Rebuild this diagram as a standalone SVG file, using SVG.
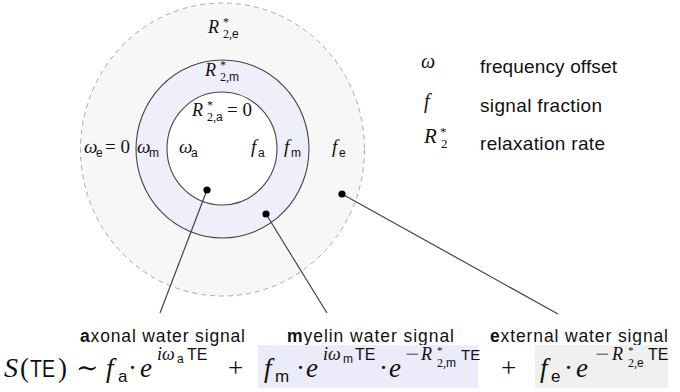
<svg xmlns="http://www.w3.org/2000/svg" width="680" height="392" viewBox="0 0 680 392">
<style>
text{fill:#111}
.mi{font-family:"Liberation Serif","DejaVu Serif",serif;font-style:italic}
.rm{font-family:"Liberation Serif","DejaVu Serif",serif;font-style:normal}
.sf{font-family:"Liberation Sans","DejaVu Sans",sans-serif;font-style:normal}
.conn{stroke:#444;stroke-width:1.2;fill:none}
.dot{fill:#000}
</style>
<rect width="680" height="392" fill="#fff"/>
<g id="external-region">
<ellipse cx="222.5" cy="149.5" rx="142" ry="146.5" fill="#f7f7f7" stroke="#aaa" stroke-width="1" stroke-dasharray="5,4"/>
<text class="rm" font-size="12"><tspan class="mi" x="208" y="33" font-size="18">R</tspan><tspan x="223" y="26">*</tspan><tspan x="223" y="38">2,</tspan><tspan class="sf" x="232" y="38">e</tspan></text>
<text class="rm" font-size="19"><tspan class="mi" x="84" y="153">ω</tspan><tspan class="sf" x="96" y="157" font-size="12">e</tspan><tspan x="105" y="153">= 0</tspan></text>
<text class="mi" font-size="19"><tspan x="332" y="153">f</tspan><tspan class="sf" x="339" y="157" font-size="12">e</tspan></text>
</g>
<g id="myelin-region">
<ellipse cx="222.5" cy="149" rx="86.5" ry="89" fill="#efeffb" stroke="#444" stroke-width="1.1"/>
<text class="rm" font-size="12"><tspan class="mi" x="205" y="76" font-size="18">R</tspan><tspan x="220" y="69">*</tspan><tspan x="220" y="81">2,</tspan><tspan class="sf" x="229" y="81">m</tspan></text>
<text class="mi" font-size="19"><tspan x="137" y="153">ω</tspan><tspan class="sf" x="149" y="157" font-size="12">m</tspan></text>
<text class="mi" font-size="19"><tspan x="284" y="153">f</tspan><tspan class="sf" x="291" y="157" font-size="12">m</tspan></text>
</g>
<g id="axonal-region">
<ellipse cx="222" cy="148.5" rx="55" ry="56.5" fill="#fff" stroke="#444" stroke-width="1.1"/>
<text class="rm" font-size="12"><tspan class="mi" x="192" y="116" font-size="18">R</tspan><tspan x="207" y="109">*</tspan><tspan x="207" y="121">2,</tspan><tspan class="sf" x="216" y="121">a</tspan><tspan x="227" y="116" font-size="19">= 0</tspan></text>
<text class="mi" font-size="19"><tspan x="179" y="153">ω</tspan><tspan class="sf" x="191" y="157" font-size="12">a</tspan></text>
<text class="mi" font-size="19"><tspan x="251" y="153">f</tspan><tspan class="sf" x="258" y="157" font-size="12">a</tspan></text>
</g>
<g id="legend">
<text class="mi" x="421" y="68" font-size="20">ω</text>
<text class="mi" x="424" y="108" font-size="20">f</text>
<text class="rm" font-size="13"><tspan class="mi" x="424" y="143" font-size="21">R</tspan><tspan x="440" y="136">*</tspan><tspan x="441" y="148">2</tspan></text>
<text class="sf" x="480" y="73" font-size="19" textLength="137" lengthAdjust="spacing">frequency offset</text>
<text class="sf" x="480" y="112" font-size="19" textLength="122" lengthAdjust="spacing">signal fraction</text>
<text class="sf" x="480" y="150" font-size="19" textLength="125" lengthAdjust="spacing">relaxation rate</text>
</g>
<g id="connectors">
<line class="conn" x1="207" y1="190" x2="160" y2="313"/>
<line class="conn" x1="266" y1="214" x2="327" y2="313"/>
<line class="conn" x1="342" y1="194" x2="558" y2="314"/>
<circle class="dot" cx="207" cy="190" r="3.6"/>
<circle class="dot" cx="266" cy="214" r="3.6"/>
<circle class="dot" cx="342" cy="194" r="3.6"/>
</g>
<g id="labels">
<text class="sf" x="80" y="342" font-size="17.5" textLength="165" lengthAdjust="spacing"><tspan font-weight="bold">a</tspan>xonal water signal</text>
<text class="sf" x="287" y="342" font-size="17.5" textLength="167" lengthAdjust="spacing"><tspan font-weight="bold">m</tspan>yelin water signal</text>
<text class="sf" x="490" y="342" font-size="17.5" textLength="178" lengthAdjust="spacing"><tspan font-weight="bold">e</tspan>xternal water signal</text>
</g>
<g id="formula">
<rect x="258" y="345" width="220" height="43" fill="#ebebf9"/>
<rect x="535" y="345" width="133" height="43" fill="#f0f0f0"/>
<text class="rm" font-size="27"><tspan class="mi" x="4" y="377" font-size="28">S</tspan><tspan x="20" y="377">(</tspan></text>
<text class="sf" x="30" y="377" font-size="24" textLength="25" lengthAdjust="spacingAndGlyphs">TE</text>
<text class="rm" font-size="27"><tspan x="58" y="377">)</tspan><tspan x="76" y="377">∼</tspan></text>
<text class="rm" font-size="27"><tspan class="mi" x="106" y="377">f</tspan><tspan class="sf" x="118" y="382" font-size="17">a</tspan><tspan x="128" y="377">·</tspan><tspan class="mi" x="140" y="377">e</tspan><tspan class="mi" x="157" y="360" font-size="18">iω</tspan><tspan class="sf" x="177" y="363" font-size="12">a</tspan><tspan class="sf" x="187" y="360" font-size="16">TE</tspan></text>
<text class="rm" x="228" y="377" font-size="27">+</text>
<text class="rm" font-size="27"><tspan class="mi" x="264" y="377">f</tspan><tspan class="sf" x="275" y="382" font-size="17">m</tspan><tspan x="296" y="377">·</tspan><tspan class="mi" x="306" y="377">e</tspan><tspan class="mi" x="323" y="360" font-size="18">iω</tspan><tspan class="sf" x="343" y="363" font-size="12">m</tspan><tspan class="sf" x="355" y="360" font-size="16">TE</tspan><tspan x="379" y="377">·</tspan><tspan class="mi" x="389" y="377">e</tspan></text>
<text class="rm" x="405" y="359" font-size="15" textLength="14" lengthAdjust="spacingAndGlyphs">−</text>
<text class="rm" font-size="12"><tspan class="mi" x="421" y="360" font-size="18">R</tspan><tspan x="437" y="354" font-size="11">*</tspan><tspan x="437" y="367">2,</tspan><tspan class="sf" x="446" y="367">m</tspan><tspan class="sf" x="461" y="360" font-size="15">TE</tspan></text>
<text class="rm" x="501" y="377" font-size="27">+</text>
<text class="rm" font-size="27"><tspan class="mi" x="540" y="377">f</tspan><tspan class="sf" x="551" y="382" font-size="17">e</tspan><tspan x="564" y="377">·</tspan><tspan class="mi" x="576" y="377">e</tspan></text>
<text class="rm" x="595" y="359" font-size="15" textLength="14" lengthAdjust="spacingAndGlyphs">−</text>
<text class="rm" font-size="12"><tspan class="mi" x="612" y="360" font-size="18">R</tspan><tspan x="628" y="354" font-size="11">*</tspan><tspan x="628" y="367">2,</tspan><tspan class="sf" x="637" y="367">e</tspan><tspan class="sf" x="648" y="360" font-size="16">TE</tspan></text>
</g>
</svg>
